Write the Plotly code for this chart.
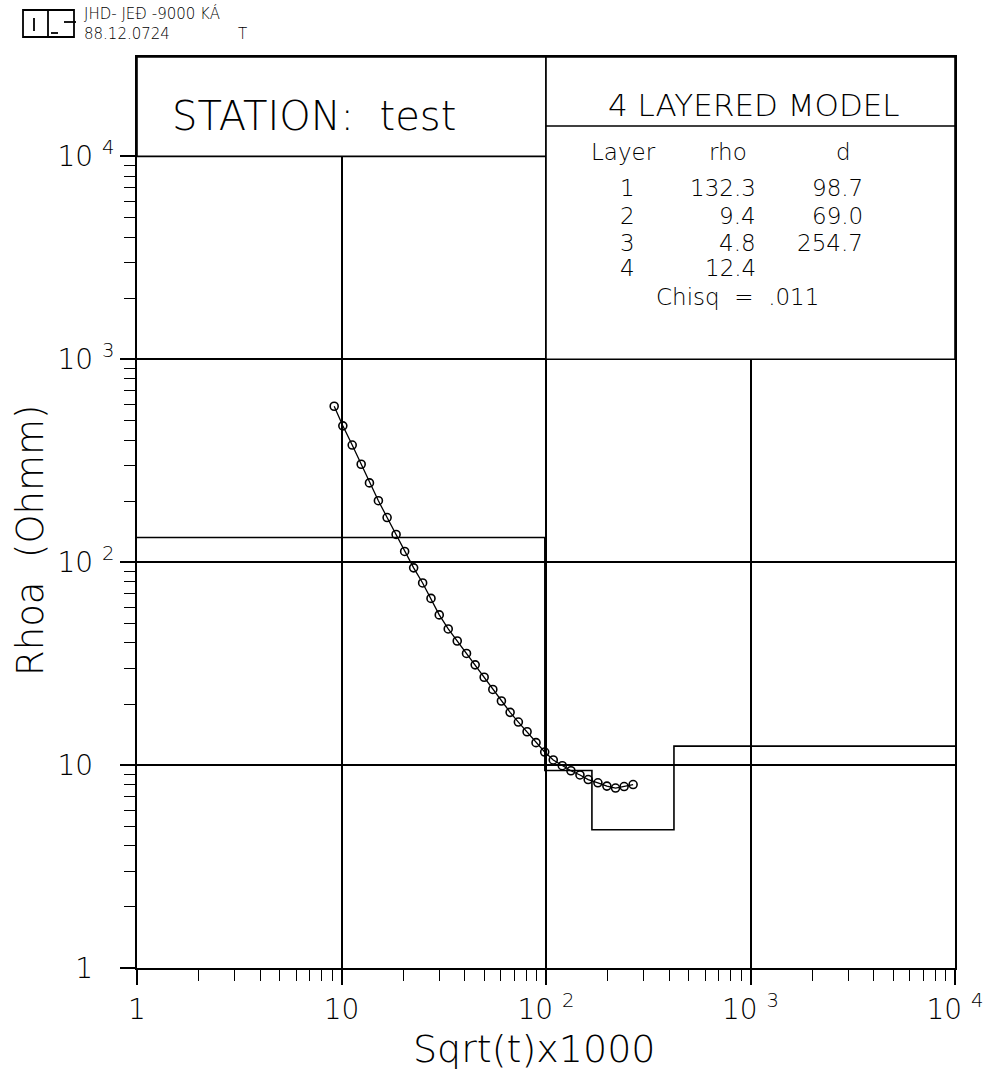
import plotly.graph_objects as go

# ---------------- data ----------------
x_obs = [9.21, 10.15, 11.28, 12.48, 13.70, 15.15, 16.71, 18.49, 20.36, 22.53,
         24.93, 27.39, 30.06, 33.26, 36.81, 40.86, 45.05, 49.85, 54.95, 60.53,
         66.76, 73.26, 80.80, 89.38, 98.55, 108.5, 120.1, 132.4, 146.6, 160.8,
         179.4, 198.5, 218.8, 241.0, 266.7]
rho_obs = [587, 470, 378, 304, 246, 201, 166, 137, 113, 93.8,
           79.0, 66.3, 55.0, 46.9, 40.9, 35.5, 31.2, 27.1, 23.6, 20.7,
           18.2, 16.3, 14.6, 12.9, 11.6, 10.6, 9.93, 9.38, 8.94, 8.49,
           8.18, 7.88, 7.71, 7.84, 8.02]

layers = ["1", "2", "3", "4"]
rho_model = [132.3, 9.4, 4.8, 12.4]
d_model = [98.7, 69.0, 254.7]
chisq = ".011"
station = "test"

x_tickvals = [1, 10, 100, 1000, 10000]
x_ticktext = ["1", "10", "10 <sup>2</sup>", "10 <sup>3</sup>", "10 <sup>4</sup>"]
y_tickvals = [1, 10, 100, 1000, 10000]
y_ticktext = ["1 <sup>&nbsp;&nbsp;</sup>", "10 <sup>&nbsp;&nbsp;</sup>",
              "10 <sup>2</sup>", "10 <sup>3</sup>", "10 <sup>4</sup>"]

X_RANGE = [0, 4]
Y_RANGE = [0, 4.49]

# ---------------- geometry ----------------
W, H = 984, 1079
L, R, T, B = 137, 955, 57, 968
PW, PH = R - L, B - T
FONT = "DejaVu Sans"
FW = 200


def px(x):
    return (x - L) / PW


def py(y):
    return (B - y) / PH


# model step boundaries from layer thicknesses
bounds = [10 ** X_RANGE[0]]
acc = 0.0
for d in d_model:
    acc += d
    bounds.append(acc)
bounds.append(10 ** X_RANGE[1])
step_x = bounds
step_y = rho_model + [rho_model[-1]]

minor_vals = [m * 10 ** e for e in range(0, 4) for m in range(2, 10)]

fig = go.Figure()
fig.add_trace(go.Scatter(x=step_x, y=step_y, mode="lines", line_shape="hv",
                         line=dict(color="black", width=1.6), hoverinfo="skip"))
fig.add_trace(go.Scatter(x=x_obs, y=rho_obs, mode="lines+markers",
                         line=dict(color="black", width=1.3),
                         marker=dict(symbol="circle-open", size=8, color="black",
                                     line=dict(width=1.6, color="black"))))

axis_common = dict(
    type="log", showgrid=True, gridcolor="black", gridwidth=1.5,
    showline=True, linecolor="black", linewidth=1.8, mirror=True,
    ticks="outside", ticklen=15, tickwidth=1.5, tickcolor="black",
    tickmode="array", zeroline=False, automargin=False,
    tickfont=dict(family=FONT, size=28, color="black", weight=FW),
    minor=dict(tickmode="array", tickvals=minor_vals, ticks="outside", ticklen=11,
               tickwidth=1.4, tickcolor="black", showgrid=False),
)

fig.update_xaxes(range=X_RANGE, tickvals=x_tickvals, ticktext=x_ticktext, **axis_common)
fig.update_yaxes(range=Y_RANGE, tickvals=y_tickvals, ticktext=y_ticktext, **axis_common)

shapes = []
x100 = (2 - X_RANGE[0]) / (X_RANGE[1] - X_RANGE[0])
y1e4 = (4 - Y_RANGE[0]) / (Y_RANGE[1] - Y_RANGE[0])
y1e3 = (3 - Y_RANGE[0]) / (Y_RANGE[1] - Y_RANGE[0])
# station box (x from 1 to 100, y from 1e4 to top)
shapes.append(dict(type="rect", xref="paper", yref="paper", x0=0, x1=x100, y0=y1e4, y1=1,
                   fillcolor="white", line=dict(color="black", width=1.6), layer="above"))
# model table box (x from 100 to 1e4, y from 1e3 to top)
shapes.append(dict(type="rect", xref="paper", yref="paper", x0=x100, x1=1, y0=y1e3, y1=1,
                   fillcolor="white", line=dict(color="black", width=1.6), layer="above"))
shapes.append(dict(type="line", xref="paper", yref="paper", x0=x100, x1=1, y0=py(126), y1=py(126),
                   line=dict(color="black", width=1.6), layer="above"))
# logo
shapes.append(dict(type="rect", xref="paper", yref="paper", x0=px(23), x1=px(74), y0=py(37), y1=py(10),
                   line=dict(color="black", width=1.8)))
shapes.append(dict(type="line", xref="paper", yref="paper", x0=px(48), x1=px(48), y0=py(37), y1=py(10),
                   line=dict(color="black", width=1.8)))
shapes.append(dict(type="line", xref="paper", yref="paper", x0=px(34), x1=px(34), y0=py(31), y1=py(18),
                   line=dict(color="black", width=1.8)))
shapes.append(dict(type="line", xref="paper", yref="paper", x0=px(64), x1=px(76), y0=py(22), y1=py(22),
                   line=dict(color="black", width=1.8)))
shapes.append(dict(type="line", xref="paper", yref="paper", x0=px(51), x1=px(58), y0=py(33), y1=py(33),
                   line=dict(color="black", width=1.8)))
fig.update_layout(shapes=shapes)

ann = []


def text(t, x, y, size, xanchor="center", textangle=0, align="center"):
    ann.append(dict(text=t, x=px(x), y=py(y), xref="paper", yref="paper", showarrow=False,
                    xanchor=xanchor, yanchor="middle", textangle=textangle, align=align,
                    font=dict(family=FONT, size=size, color="black", weight=FW)))


text("STATION:  " + station, 314, 116, 40)
text(f"{len(rho_model)} LAYERED MODEL", 754, 105, 31)
text("Layer", 623, 152, 23)
text("rho", 728, 152, 23)
text("d", 843, 152, 23)
row_y = [188, 216, 243, 268]
for i, lay in enumerate(layers):
    text(lay, 627, row_y[i], 23)
    text(f"{rho_model[i]:.1f}", 758, row_y[i], 23, xanchor="right")
    if i < len(d_model):
        text(f"{d_model[i]:.1f}", 865, row_y[i], 23, xanchor="right")
text("Chisq  =  " + chisq, 737, 297, 23)
text("Rhoa  (Ohmm)", 30, 540, 37, textangle=-90)
text("Sqrt(t)x1000", 534, 1049, 38)
text("JHD- JEÐ -9000 KÁ<br>88.12.0724", 82, 24, 15, xanchor="left", align="left")
text("T", 242, 34, 15)
fig.update_layout(annotations=ann)

fig.update_layout(width=W, height=H, margin=dict(l=L, r=W - R, t=T, b=H - B),
                  paper_bgcolor="white", plot_bgcolor="white", showlegend=False)

fig.write_html("out.html", config={"displayModeBar": False},
               post_script="document.body.style.margin='0';document.body.style.overflow='hidden';")
